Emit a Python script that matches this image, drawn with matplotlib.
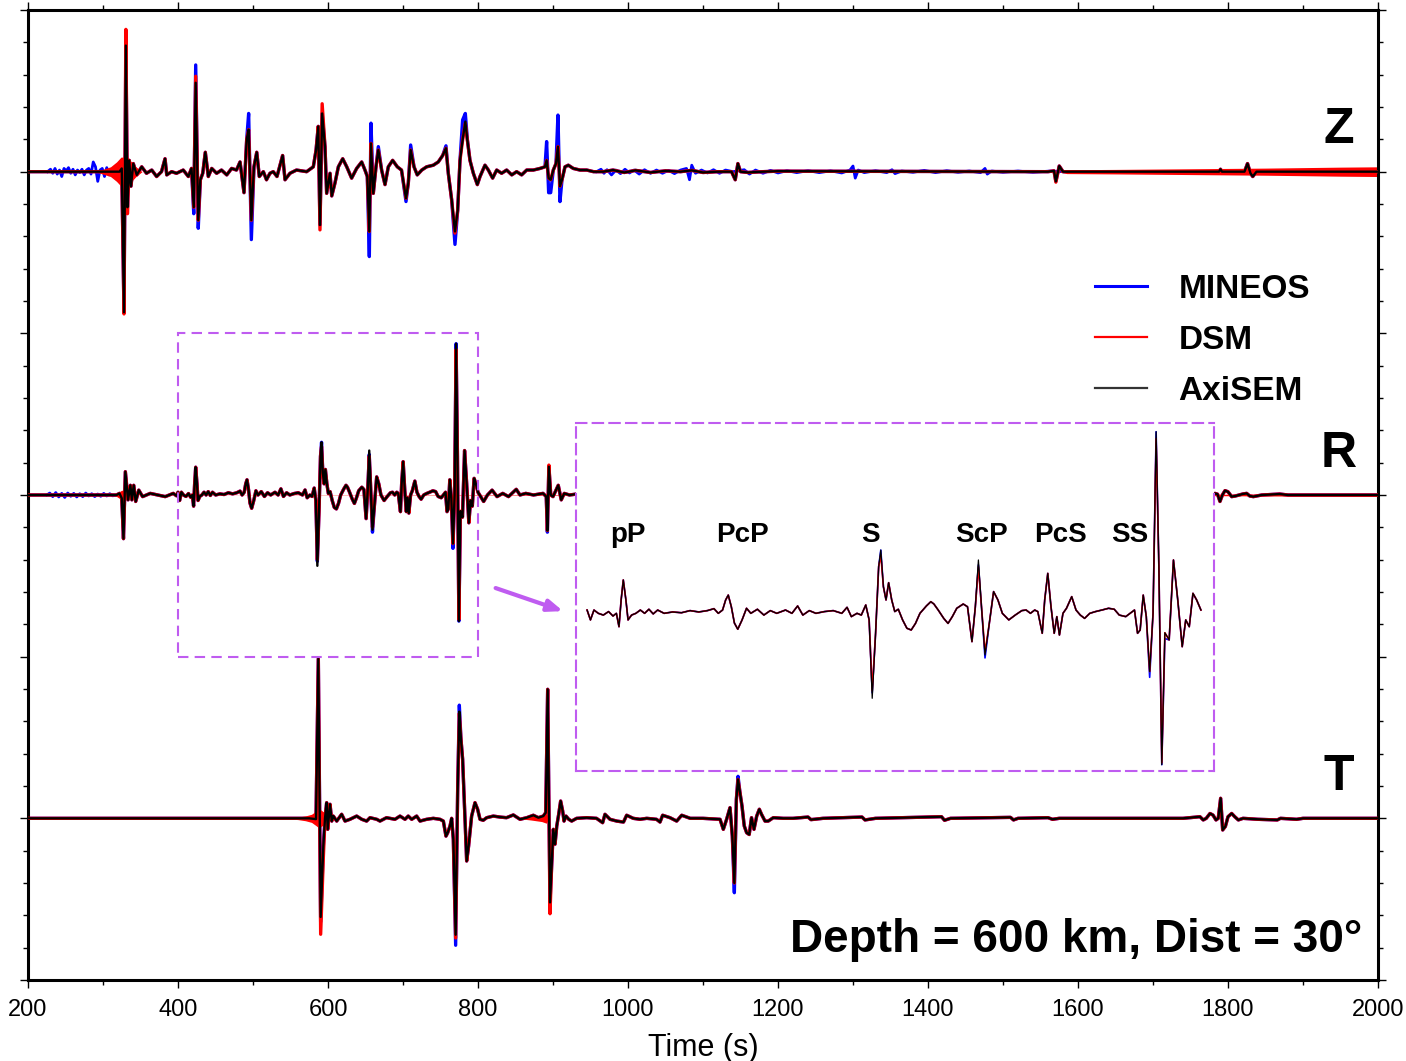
import numpy as np
import matplotlib
matplotlib.use('Agg')
import matplotlib.pyplot as plt
from matplotlib.patches import Rectangle

plt.rcParams['font.family'] = ['Liberation Sans', 'DejaVu Sans']

# ---------------- data (time in s, amplitude in trace units) ----------------
# Z component, AxiSEM trace + where DSM / MINEOS peaks differ
z_t = [200, 322, 325, 328, 330.5, 332.6, 335, 337.3, 340.4, 345, 351.6, 358, 365, 371.5, 378,
       382.7, 385, 391.5, 398, 407, 413.8, 418, 421, 423.6, 427, 429.8, 433, 436.4, 440.4, 445,
       451.5, 458, 465, 471.5, 478, 482.7, 488, 491.6, 494.2, 497.8, 501.3, 505, 508.4, 513.8,
       518, 522.6, 527, 532, 539.5, 542.7, 549.3, 558, 571.5, 580.4, 584, 587, 589.3, 592.2,
       596, 598.2, 602.7, 605, 609.3, 613.8, 619.6, 625, 631.5, 638.2, 644.9, 649.3, 652.4,
       655.1, 657.3, 660.4, 664, 667.1, 671.5, 676, 680.4, 686.2, 692.4, 698, 704, 707.1, 710.2,
       714.7, 719, 725, 731.5, 740.4, 747, 752.9, 757.3, 760.4, 764.9, 769.3, 772.9, 776, 779.5,
       783.1, 785.8, 789.3, 793.8, 799.1, 802.7, 809.3, 813.8, 819.5, 824.9, 831.5, 838.2, 845,
       851.5, 858.2, 864.9, 873.8, 882.7, 889.3, 891.5, 894.2, 896.9, 900.4, 904, 906.6, 909.3,
       912, 916, 920.4, 927, 936, 945, 954, 967, 980, 995, 1010, 1030, 1050, 1070, 1085, 1100,
       1120, 1138, 1143, 1146.5, 1150, 1160, 1180, 1200, 1560, 1568, 1570.5, 1575, 1580, 1788,
       1790, 1792, 1822, 1826, 1830, 1833, 1838, 2000]
z_axisem = [0, 0, 0.02, -0.87, 0.78, -0.22, 0.07, -0.09, 0.05, -0.02, 0.03, -0.01, 0.01, -0.03, 0,
            0.08, -0.02, 0, -0.01, 0.01, -0.03, 0.02, -0.22, 0.55, -0.30, -0.05, -0.01, 0.12, -0.03, 0.02,
            -0.01, 0.01, -0.02, 0.02, 0.01, 0.06, -0.13, 0.2, 0.26, -0.30, 0.03, 0.12, -0.03, 0,
            -0.05, -0.01, 0, -0.03, 0.1, -0.05, -0.01, 0.01, 0, 0.03, 0.13, 0.28, -0.33, 0.36,
            0.155, -0.134, -0.01, -0.15, -0.07, 0.03, 0.08, 0.03, -0.04, 0.02, 0.06, 0.01, -0.03,
            -0.37, 0.175, -0.134, 0.03, 0.134, 0.01, -0.08, 0.03, 0.07, 0.03, 0.01, -0.165, -0.07, 0.134,
            0.03, -0.02, 0.01, 0.03, 0.04, 0.06, 0.1, 0.145, -0.01, -0.175, -0.37, -0.24, 0.07, 0.196,
            0.31, 0.196, 0.07, -0.01, -0.08, -0.03, 0.04, 0.01, -0.04, 0.01, -0.01, 0.01, -0.02,
            0, -0.02, 0.01, 0.01, 0.02, 0.03, 0.07, -0.04, -0.05, 0.01, 0.05, 0.155, -0.09,
            -0.05, 0.03, 0.04, 0.02, 0.01, 0.01, 0, 0, 0.01, -0.005, 0.008, -0.005, 0.005, 0, 0.008, -0.005,
            0, 0, -0.05, 0.05, 0, -0.005, 0, 0.003, 0, 0.005, -0.06, 0.035, 0, 0,
            0.015, 0, 0, 0.05, -0.01, -0.03, 0, 0]
z_dsm_peaks = {328: -0.88, 330.5: 0.88, 332.6: -0.26, 423.6: 0.59, 589.3: -0.36, 592.2: 0.42,
               769.3: -0.38, 783.1: 0.30, 1570.5: -0.065}
z_mineos_peaks = {421: -0.26, 423.6: 0.66, 427: -0.35, 494.2: 0.36, 497.8: -0.42, 655.1: -0.525,
                  657.3: 0.30, 667.1: 0.155, 704: -0.185, 710.2: 0.165, 757.3: 0.16, 769.3: -0.45,
                  779.5: 0.32, 783.1: 0.36, 785.8: 0.2, 891.5: 0.186, 894.2: -0.13, 896.9: -0.13,
                  906.6: 0.35, 909.3: -0.185}
z_mineos_noise1_t = [226, 230, 233, 236, 239, 242, 245, 248, 251, 254, 257, 260, 263, 266, 269, 272,
                     275, 278, 281, 284, 287, 290, 293, 296, 299, 302, 305, 308, 311, 314, 317, 320, 323]
z_mineos_noise1 = [0, 0.015, -0.01, 0.02, -0.015, 0.01, -0.03, 0.02, 0.005, 0.025, -0.01, 0.015, -0.02,
                   0.01, -0.005, 0.015, -0.02, 0.01, 0.02, -0.015, 0.06, 0.03, -0.06, 0.01, 0.02, -0.03,
                   0.025, -0.02, 0.015, -0.025, 0.02, -0.01, 0]
z_mineos_noise2_t = [958, 964, 968, 972, 978, 984, 990, 996, 1002, 1008, 1015, 1022, 1030, 1038, 1046,
                     1054, 1062, 1070, 1078, 1082, 1085, 1090, 1098, 1106, 1114, 1122, 1130, 1140, 1155,
                     1162, 1170, 1180, 1190, 1200, 1212, 1225, 1240, 1255, 1270, 1285, 1296, 1300, 1303,
                     1307, 1315, 1330, 1345, 1352, 1356, 1365, 1380, 1395, 1410, 1425, 1440, 1455, 1470,
                     1476, 1479, 1485, 1500, 1520, 1540, 1560, 1580]
z_mineos_noise2 = [0, 0.015, -0.01, 0.012, -0.02, 0.01, -0.012, 0.015, -0.008, 0.01, -0.015, 0.012,
                   -0.01, 0.01, -0.01, 0.008, -0.012, 0.01, 0.02, -0.05, 0.04, -0.01, 0.01, -0.008,
                   0.012, -0.01, 0.01, 0, 0.012, -0.015, 0.01, -0.01, 0.008, -0.008, 0.006, -0.006,
                   0.006, -0.006, 0.005, -0.008, 0.01, 0.035, -0.04, 0.01, -0.006, 0.006, -0.006, 0.012,
                   -0.012, 0.004, -0.004, 0.008, -0.006, 0.006, -0.004, 0.004, -0.006, 0.02, -0.015,
                   0.004, -0.004, 0.004, -0.004, 0.003, 0]
z_dsm_env_t = [290, 300, 310, 318, 324, 333, 338, 344, 352, 1575, 1585, 1650, 1750, 1850, 1950, 2000]
z_dsm_env = [0, 0.015, 0.03, 0.06, 0.09, 0.09, 0.06, 0.03, 0, 0, 0.012, 0.014, 0.018, 0.022, 0.028, 0.03]

# R component (400-800 s)
r_t = [200, 318, 322, 325, 327.3, 329.8, 333.4, 336.5, 338.5, 341, 343.6, 347.7, 352.8, 363, 373,
       383, 393.7, 398,
       400, 402.2, 404.5, 407.3, 410.6, 414, 416.9, 419.1, 420.8, 422.2, 423.6, 425.3, 426.7, 429,
       431.8, 434.7, 437.5, 440.3, 443.1, 446, 450.2, 455.8, 461.5, 467.1, 472.8, 478.4, 482.7,
       485.5, 488.3, 490.3, 492, 494, 496, 498.2, 501, 503.9, 506.7, 511, 515.2, 519.4, 523.6,
       529.3, 533.5, 537.2, 540.6, 544.8, 549.1, 554.7, 560.4, 566, 569.4, 572.2, 575.9, 578.7,
       581.6, 583.8, 585.8, 588, 590, 591.4, 593.1, 594.8, 596.5, 598.5, 600.5, 602.8, 605.6,
       608.4, 611.2, 614, 616.9, 621.1, 624, 626, 628.8, 632.4, 635.2, 638, 640.9, 645.1, 647.9,
       650.8, 653, 655, 657, 659.3, 662.1, 664.9, 667.7, 670.6, 674.8, 679, 683.3, 686.1, 688.9,
       691.7, 693.7, 696.6, 698.2, 700.2, 702.3, 704.4, 706.1, 707.8, 710.1, 712.4, 715.8, 718.6,
       721.4, 724.2, 727.6, 731.3, 735.5, 739.8, 743.5, 746.8, 751, 753.8, 756.7, 758.7, 760.4,
       762.4, 764.4, 766.6, 768.8, 770.8, 772.6, 774.5, 776.5, 779.3, 782.1, 784.9, 787.8, 790.1,
       792.4, 794.8, 797.2, 800,
       807.5, 812.6, 818.8, 825.4, 833, 840.7, 851, 856, 863.7, 874, 886.7, 891, 892.5, 894.5,
       897, 900, 903, 907, 911, 915, 922, 930, 1781, 1782.6, 1786, 1789.3, 1792.5, 1796, 1800,
       1804.9, 1810, 1819.5, 1824.9, 1829, 1833.8, 1845, 1869, 1880, 2000]
r_axisem = [0, 0, 0.01, -0.02, -0.27, 0.144, -0.03, 0.06, -0.03, 0.06, -0.04, 0.03, -0.01, 0.01, 0,
            -0.01, 0.01, -0.005,
            0.017, -0.034, 0.017, 0, -0.009, 0.009, -0.014, 0, -0.069, 0.069, 0.172, 0.069, -0.034, -0.009,
            0, 0.017, 0, 0.021, -0.003, 0.017, 0, 0.007, 0.003, 0.014, 0.007, 0.014, 0.024,
            0, 0.017, 0.069, 0.094, 0.034, -0.05, -0.082, -0.034, 0.026, 0, 0.021, -0.009, 0.014, 0,
            0.017, 0, 0.038, -0.009, 0.014, 0, 0.009, 0.014, 0, 0.031, -0.017, 0, -0.009,
            0.043, -0.034, -0.438, -0.103, 0.24, 0.326, 0.137, 0.069, 0.158, 0.069, 0.009, 0.021, -0.034,
            -0.077, -0.086, -0.052, 0, 0.038, 0.06, 0.048, 0.017, -0.026, -0.052, -0.017, 0.026, 0.048, 0.034,
            -0.146, 0.034, 0.275, 0.034, -0.215, -0.052, 0.112, 0.069, 0, -0.034, -0.009, 0.014, 0.017, 0,
            0.017, 0.009, -0.103, 0.069, 0.206, 0.034, -0.103, -0.017, -0.112, 0, 0.026, 0.086, 0.017,
            -0.009, -0.026, 0, 0.009, 0.017, 0.026, 0.021, -0.009, -0.017, 0, 0.017, -0.103, -0.086,
            0.094, -0.017, -0.30, 0, 0.936, 0.24, -0.78, -0.1, -0.137, 0.275, 0.069, -0.172, -0.034,
            -0.069, 0.103, 0.069, 0.017,
            -0.04, 0, 0.03, -0.01, 0.01, -0.01, 0.035, 0, 0.01, 0, 0.01, -0.01, -0.22, 0.175,
            0, -0.01, 0.02, 0.06, -0.03, 0.01, 0, 0.005, 0, 0.01, 0.005, -0.04, 0, 0.027, 0.02,
            -0.01, -0.006, 0.006, 0.01, -0.006, -0.01, 0, 0.006, 0, 0]
r_dsm_peaks = {585.8: -0.40, 591.4: 0.30, 655: 0.24, 659.3: -0.20, 770.8: 0.90, 774.5: -0.77,
               894.5: 0.185}
r_mineos_peaks = {585.8: -0.41, 655: 0.25, 659.3: -0.23, 766.6: -0.33, 892.5: -0.23, 776.5: -0.13}
r_mineos_noise_t = [225, 229, 233, 237, 241, 245, 249, 253, 257, 261, 265, 269, 273, 277, 281, 285,
                    289, 293, 297, 301, 305, 309, 313, 318]
r_mineos_noise = [0, 0.012, -0.01, 0.015, -0.012, 0.01, -0.015, 0.012, -0.008, 0.01, -0.012, 0.008,
                  -0.01, 0.012, -0.006, 0.008, -0.01, 0.006, -0.008, 0.01, -0.006, 0.008, -0.005, 0]
r_dsm_env_t = [315, 320, 325, 330, 336, 1781, 1850, 2000]
r_dsm_env = [0, 0.015, 0.03, 0.02, 0, 0.004, 0.006, 0.008]

# T component
t_t = [200, 575, 584, 587.1, 590.2, 593.8, 596, 598.2, 599.6, 602.7, 605, 607.1, 611.6, 618.2, 622.7,
       629.3, 638.2, 645, 651.5, 656, 665, 669.3, 678, 689.3, 696, 702.7, 707, 711.6, 718.2, 722.7,
       731.5, 740.4, 749.3, 753.8, 757.3, 759.5, 762.7, 764.9, 767.1, 770.2, 772.9, 775.1, 777.3,
       779.5, 782, 784.9, 787.5, 791.5, 796, 799.5, 802.7, 807, 811.6, 820.4, 829, 838, 847.1, 856,
       865, 873.8, 880.5, 887.1, 890.3, 892.9, 896, 898.2, 900.4, 902.7, 905, 907.6, 910.2, 912.9,
       914.7, 917.3, 921, 924.9, 931.5, 945, 958, 966.2, 969.3, 976, 985, 994, 998.2, 1007, 1016,
       1025, 1038, 1042.7, 1046.2, 1056, 1064.9, 1071.6, 1083, 1100, 1122.7, 1127.1, 1131.5, 1136,
       1139.1, 1141.8, 1144.5, 1146.7, 1149.3, 1152, 1155, 1158.2, 1161.6, 1164.7, 1168, 1171.6,
       1175.1, 1178, 1182.7, 1187, 1193.7, 1207, 1220, 1240, 1244, 1260, 1312, 1316, 1330, 1418,
       1422, 1430, 1510, 1514, 1520, 1560, 1566, 1575, 1740, 1762.6, 1767, 1771, 1776, 1780, 1784,
       1787, 1790.2, 1792.9, 1796.5, 1800, 1804.9, 1809, 1813.8, 1820, 1840, 1865.7, 1870, 1891.5,
       1900, 2000]
t_axisem = [0, 0, -0.005, 0.987, -0.61, -0.17, 0.0, 0.097, -0.068, 0.087, -0.017, 0.014, -0.017, 0.025, -0.017,
            -0.006, 0.014, -0.006, -0.017, 0.004, -0.006, -0.017, 0.004, -0.006, 0.014, -0.006, 0.014, -0.006, 0.014, -0.017,
            -0.006, 0, -0.006, -0.017, -0.11, -0.09, -0.047, 0.0, -0.13, -0.72, 0.18, 0.66, 0.489,
            0.365, 0.076, -0.264, -0.17, 0.014, 0.097, 0.056, -0.006, -0.012, 0.004, 0.014, 0.008, 0.004, 0.021, -0.006,
            0.004, 0.019, 0.004, 0.014, 0.035, 0.798, -0.52, -0.29, -0.068, -0.16, -0.048, 0.025, 0.107, 0.045,
            -0.017, 0.014, -0.006, -0.017, 0, 0.004, 0, -0.027, 0.025, -0.006, -0.017, -0.023, 0.019, 0, -0.006,
            0, -0.006, -0.023, 0.019, 0.004, -0.017, 0.019, 0, 0, -0.006, -0.068, -0.006, 0.066,
            -0.11, -0.40, 0.117, 0.241, 0.159, 0.076, -0.047, -0.089, -0.1, 0.004, -0.068, 0.014,
            0.056, 0.025, -0.017, -0.017, 0.004, 0, 0, 0.008, -0.008, 0, 0.008, -0.01, 0, 0.01,
            -0.012, 0, 0.006, -0.01, 0, 0.004, -0.006, 0, 0, 0.01, -0.01, 0, 0.03, 0.02, -0.01,
            0, 0.124, -0.072, -0.05, 0.01, 0.03, 0.01, -0.01, 0, -0.006, -0.01, 0, -0.006,
            0, 0]
t_dsm_peaks = {590.2: -0.717, 593.8: -0.24, 896: -0.59, 770.2: -0.74, 775.1: 0.65}
t_mineos_peaks = {770.2: -0.785, 775.1: 0.70, 1141.8: -0.46, 1146.7: 0.26, 590.2: -0.64}
t_dsm_env_t = [540, 560, 570, 578, 584, 588, 594, 600, 606, 850, 870, 885, 891, 895, 1880, 1950, 2000]
t_dsm_env = [0, 0.008, 0.015, 0.025, 0.045, 0.06, 0.04, 0.015, 0, 0, 0.01, 0.02, 0.03, 0, 0, 0.004, 0.006]

components = ['Z', 'R', 'T']
offsets = [5, 3, 1]
phases = ['pP', 'PcP', 'S', 'ScP', 'PcS', 'SS']
phase_times = [426.7, 501, 584.4, 657.3, 708.8, 753.7]

c_mineos, c_dsm, c_axisem = '#0000ff', '#ff0000', '#000000'
purple = '#bf5cf0'


def with_peaks(t, amp, peaks):
    return np.array([peaks.get(ti, ai) for ti, ai in zip(t, amp)])


traces = [
    (z_t, z_axisem, z_dsm_peaks, z_mineos_peaks,
     [(z_mineos_noise1_t, z_mineos_noise1), (z_mineos_noise2_t, z_mineos_noise2)], (z_dsm_env_t, z_dsm_env)),
    (r_t, r_axisem, r_dsm_peaks, r_mineos_peaks,
     [(r_mineos_noise_t, r_mineos_noise)], (r_dsm_env_t, r_dsm_env)),
    (t_t, t_axisem, t_dsm_peaks, t_mineos_peaks, [], (t_dsm_env_t, t_dsm_env)),
]

fig = plt.figure(figsize=(14.06, 10.61), dpi=100)
ax = fig.add_axes([28 / 1406, 1 - 980 / 1061, 1350 / 1406, 970 / 1061])

for (t, ax_amp, dsm_pk, min_pk, noise, env), off, name in zip(traces, offsets, components):
    t = np.array(t, dtype=float)
    black = np.array(ax_amp, dtype=float)
    red = with_peaks(t, black, dsm_pk)
    blue = with_peaks(t, black, min_pk)
    for nt, nv in noise:
        ax.plot(nt, np.array(nv) + off, color=c_mineos, lw=2.0, zorder=2)
    et, ev = np.array(env[0]), np.array(env[1])
    ax.fill_between(et, off - ev, off + ev, color=c_dsm, lw=0, zorder=2.5)
    ax.plot(t, blue + off, color=c_mineos, lw=2.4, zorder=2)
    ax.plot(t, red + off, color=c_dsm, lw=2.4, zorder=3)
    ax.plot(t, black + off, color=c_axisem, lw=1.7, zorder=4)
    ax.text(1948, off + 0.176, name, fontsize=36, fontweight='bold', ha='center', va='baseline')

ax.set_xlim(200, 2000)
ax.set_ylim(0, 6)
ax.set_xticks(np.arange(200, 2001, 200))
ax.set_xticks(np.arange(200, 2001, 100), minor=True)
ax.set_yticks(np.arange(0, 7, 1))
ax.set_yticks(np.arange(0, 6.01, 0.2), minor=True)
ax.set_yticklabels([])
ax.tick_params(which='both', direction='out', top=True, right=True, width=1.0)
ax.tick_params(which='major', length=6, labelsize=17, pad=8)
ax.tick_params(which='minor', length=3.5)
for s in ax.spines.values():
    s.set_linewidth(2.2)
ax.set_xlabel('Time (s)', fontsize=22, labelpad=8)

# legend
h_min, = ax.plot([], [], color=c_mineos, lw=2.2, label='MINEOS')
h_dsm, = ax.plot([], [], color=c_dsm, lw=1.6, label='DSM')
h_axi, = ax.plot([], [], color='#333333', lw=1.6, label='AxiSEM')
ax.legend(handles=[h_min, h_dsm, h_axi], loc='upper left', bbox_to_anchor=(1095 / 1406, 1 - 274 / 1061),
          bbox_transform=fig.transFigure, frameon=False, borderpad=0, borderaxespad=0,
          prop={'size': 24, 'weight': 'bold'}, handlelength=1.56, handletextpad=0.95, labelspacing=0.6)

ax.text(1978.7, 0.173, 'Depth = 600 km, Dist = 30°', fontsize=33, fontweight='bold',
        ha='right', va='baseline')

# box around the zoomed window and arrow
ax.add_patch(Rectangle((400, 2), 400, 2, fill=False, ec=purple, lw=1.5, ls=(0, (5, 3)), zorder=5))
ax.annotate('', xy=(917, 2.276), xytext=(820, 2.43),
            arrowprops=dict(arrowstyle='-|>,head_length=0.9,head_width=0.35', color=purple, lw=3))

# zoomed R panel
ins = ax.inset_axes([930.7, 1.2925, 850.6, 2.154], transform=ax.transData)
ins.set_facecolor('white')
tr = np.array(r_t, dtype=float)
sel = (tr >= 400) & (tr <= 800)
rb = np.array(r_axisem, dtype=float)
ins.plot(tr[sel], with_peaks(tr, rb, r_mineos_peaks)[sel], color=c_mineos, lw=1.2)
ins.plot(tr[sel], with_peaks(tr, rb, r_dsm_peaks)[sel], color=c_dsm, lw=1.2)
ins.plot(tr[sel], rb[sel], color=c_axisem, lw=0.9)
ins.set_xlim(392.8, 808.5)
ins.set_ylim(-0.813, 0.982)
ins.set_xticks([])
ins.set_yticks([])
for s in ins.spines.values():
    s.set_color(purple)
    s.set_linewidth(1.5)
    s.set_linestyle((0, (5, 3)))
for name, tp in zip(phases, phase_times):
    ins.text(tp, 0.369, name, fontsize=20, fontweight='bold', ha='center', va='baseline')

fig.savefig('out.png', dpi=100)
